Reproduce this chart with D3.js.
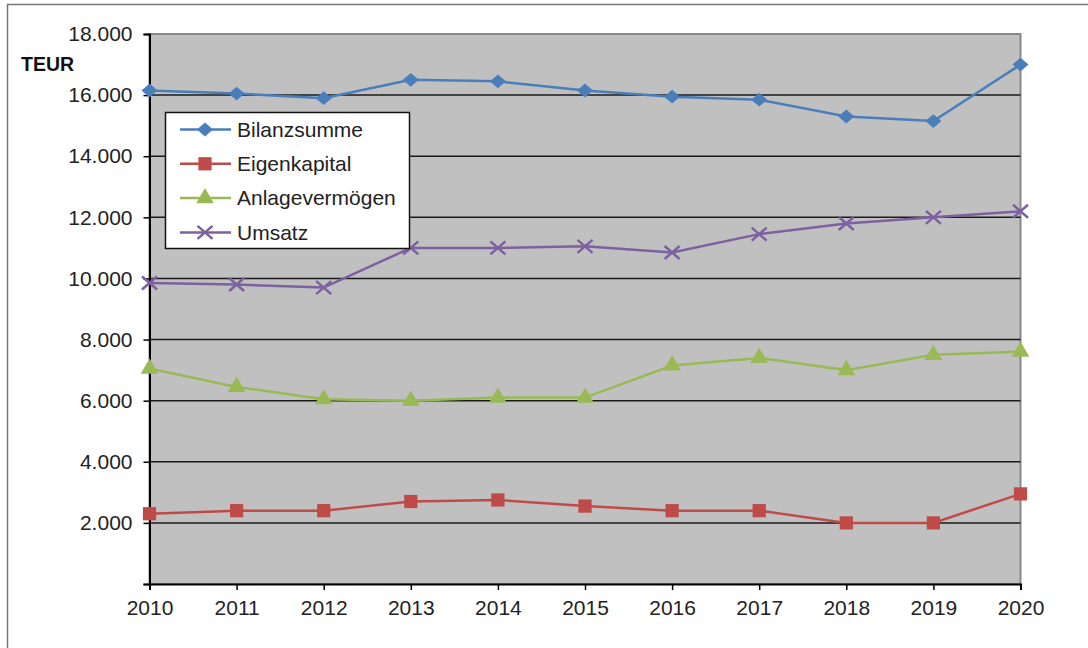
<!DOCTYPE html>
<html>
<head>
<meta charset="utf-8">
<script src="https://cdn.jsdelivr.net/npm/d3@7"></script>
<style>
  body { margin: 0; background: #fff; }
  text { font-family: "Liberation Sans", Arial, sans-serif; }
</style>
</head>
<body>
<div id="chart"></div>
<script>
// values (TEUR)
const years = ["2010", "2011", "2012", "2013", "2014", "2015", "2016", "2017", "2018", "2019", "2020"];
const bilanzsumme = [16150, 16050, 15900, 16500, 16450, 16150, 15950, 15850, 15300, 15150, 17000];
const eigenkapital = [2300, 2400, 2400, 2700, 2750, 2550, 2400, 2400, 2000, 2000, 2950];
const anlagevermoegen = [7050, 6450, 6050, 6000, 6100, 6100, 7150, 7400, 7000, 7500, 7600];
const umsatz = [9850, 9800, 9700, 11000, 11000, 11050, 10850, 11450, 11800, 12000, 12200];
const yTicks = [0, 2000, 4000, 6000, 8000, 10000, 12000, 14000, 16000, 18000];

const series = [
    { name: "Bilanzsumme", values: bilanzsumme, color: "#4a7ebb", marker: "diamond" },
    { name: "Eigenkapital", values: eigenkapital, color: "#be4b48", marker: "square" },
    { name: "Anlagevermögen", values: anlagevermoegen, color: "#98b954", marker: "triangle" },
    { name: "Umsatz", values: umsatz, color: "#7d60a0", marker: "cross" }
];

const width = 1088;
const height = 648;
const plotLeft = 149.5, plotRight = 1020.5, plotTop = 34, plotBottom = 584;

const de = d3.formatLocale({ decimal: ",", thousands: ".", grouping: [3], currency: ["", " €"] });
const fmt = de.format(",");

const svg = d3.select("#chart")
    .append("svg")
    .attr("width", width)
    .attr("height", height);

// outer frame
svg.append("rect")
    .attr("x", 7.5).attr("y", 4.5)
    .attr("width", 1200).attr("height", 800)
    .attr("fill", "none")
    .attr("stroke", "#777")
    .attr("stroke-width", 1.5);

const x = d3.scalePoint().domain(years).range([plotLeft, plotRight]);
const y = d3.scaleLinear().domain([0, 18000]).range([plotBottom, plotTop]);

// plot area
svg.append("rect")
    .attr("x", plotLeft).attr("y", plotTop)
    .attr("width", plotRight - plotLeft).attr("height", plotBottom - plotTop)
    .attr("fill", "#c0c0c0")
    .attr("stroke", "#888")
    .attr("stroke-width", 2);

// gridlines
svg.append("g")
    .selectAll("line")
    .data(yTicks.filter(d => d > 0 && d < 18000))
    .enter().append("line")
    .attr("x1", plotLeft).attr("x2", plotRight)
    .attr("y1", d => y(d)).attr("y2", d => y(d))
    .attr("stroke", "#1a1a1a")
    .attr("stroke-width", 1.5);

// axes
const yAxis = svg.append("g")
    .attr("transform", `translate(${plotLeft},0)`)
    .call(d3.axisLeft(y).tickValues(yTicks).tickSize(6).tickPadding(11)
        .tickFormat(d => d === 0 ? "" : fmt(d)));

const xAxis = svg.append("g")
    .attr("transform", `translate(0,${plotBottom})`)
    .call(d3.axisBottom(x).tickSize(6).tickPadding(10));

[yAxis, xAxis].forEach(g => {
    g.select(".domain").attr("stroke", "#000").attr("stroke-width", 2);
    g.selectAll(".tick line").attr("stroke", "#000").attr("stroke-width", 1.5);
    g.selectAll(".tick text")
        .attr("fill", "#222")
        .style("font-family", "'Liberation Sans', Arial, sans-serif")
        .style("font-size", "21px");
});

svg.append("text")
    .attr("x", 21)
    .attr("y", 71)
    .style("font-size", "19.5px")
    .style("font-weight", "bold")
    .attr("fill", "#111")
    .text("TEUR");

// marker shapes
const markerPath = {
    diamond: d3.symbol().type(d3.symbolDiamond2).size(135),
    square: d3.symbol().type(d3.symbolSquare).size(175),
    triangle: d3.symbol().type(d3.symbolTriangle).size(135)
};

function drawMarker(g, type, color) {
    if (type === "cross") {
        g.append("path")
            .attr("d", "M-7.5,-6.5L7.5,6.5M-7.5,6.5L7.5,-6.5")
            .attr("stroke", color)
            .attr("stroke-width", 2.5)
            .attr("fill", "none");
    } else {
        g.append("path")
            .attr("d", markerPath[type]())
            .attr("transform", type === "diamond" ? "scale(1.1,0.95)" : null)
            .attr("fill", color);
    }
}

const line = d3.line()
    .x((d, i) => x(years[i]))
    .y(d => y(d));

series.forEach(s => {
    const g = svg.append("g");
    g.append("path")
        .datum(s.values)
        .attr("d", line)
        .attr("fill", "none")
        .attr("stroke", s.color)
        .attr("stroke-width", 2.5);

    s.values.forEach((v, i) => {
        const m = g.append("g").attr("transform", `translate(${x(years[i])},${y(v)})`);
        drawMarker(m, s.marker, s.color);
    });
});

// legend
const legend = svg.append("g");
legend.append("rect")
    .attr("x", 165.5).attr("y", 112.5)
    .attr("width", 244).attr("height", 136)
    .attr("fill", "#fff")
    .attr("stroke", "#111")
    .attr("stroke-width", 1.5);

const items = legend.selectAll(".legend")
    .data(series)
    .enter().append("g")
    .attr("class", "legend")
    .attr("transform", (d, i) => `translate(0, ${129.5 + i * 34.3})`);

items.append("line")
    .attr("x1", 180).attr("x2", 231)
    .attr("stroke", d => d.color)
    .attr("stroke-width", 2.5);

items.each(function (d) {
    const m = d3.select(this).append("g").attr("transform", "translate(205,0)");
    drawMarker(m, d.marker, d.color);
});

items.append("text")
    .attr("x", 237)
    .attr("y", 0)
    .attr("dy", "0.35em")
    .attr("fill", "#222")
    .style("font-size", "21px")
    .text(d => d.name);
</script>
</body>
</html>
